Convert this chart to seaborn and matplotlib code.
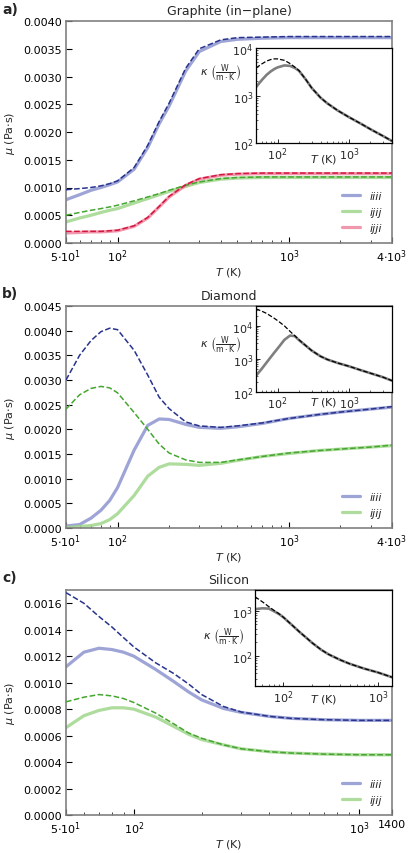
import numpy as np
import pandas as pd
import matplotlib
matplotlib.use('Agg')
import matplotlib.pyplot as plt
import matplotlib.ticker as mticker
from matplotlib.lines import Line2D
import seaborn as sns

sns.set_theme(style='ticks')
plt.rcParams['font.family'] = ['DejaVu Sans']
plt.rcParams['mathtext.fontset'] = 'dejavusans'

# ── data ─────────────────────────────────────────────────────────────────────
T_ab = [50, 60, 70, 80, 90, 100, 125, 150, 175, 200, 250, 300, 400, 500, 700,
        1000, 1500, 2000, 3000, 4000]
T_c = [50, 60, 70, 80, 90, 100, 125, 150, 175, 200, 250, 300, 400, 500, 700,
       1000, 1400]

# graphite viscosity (Pa s)
gr_iiii = [0.00078, 0.00087, 0.00095, 0.00100, 0.00105, 0.00110, 0.00133, 0.00172,
           0.00215, 0.00247, 0.00310, 0.00345, 0.00363, 0.00367, 0.00369, 0.00370,
           0.00370, 0.00370, 0.00370, 0.00370]
gr_iiii_d = [0.00096, 0.00098, 0.00100, 0.00103, 0.00107, 0.00112, 0.00136, 0.00176,
             0.00219, 0.00252, 0.00315, 0.00350, 0.00366, 0.00370, 0.00371, 0.00372,
             0.00372, 0.00372, 0.00372, 0.00372]
gr_ijij = [0.00038, 0.00045, 0.00050, 0.00055, 0.00059, 0.00062, 0.00072, 0.00080,
           0.00087, 0.00093, 0.00102, 0.00109, 0.00115, 0.00117, 0.00118, 0.00118,
           0.00118, 0.00118, 0.00118, 0.00118]
gr_ijij_d = [0.00050, 0.00055, 0.00059, 0.00062, 0.00065, 0.00068, 0.00076, 0.00083,
             0.00089, 0.00095, 0.00104, 0.00110, 0.00116, 0.00118, 0.00119, 0.00119,
             0.00119, 0.00119, 0.00119, 0.00119]
gr_ijji = [0.00018, 0.00019, 0.00020, 0.00020, 0.00021, 0.00022, 0.00030, 0.00045,
           0.00065, 0.00083, 0.00104, 0.00115, 0.00122, 0.00124, 0.00125, 0.00125,
           0.00125, 0.00125, 0.00125, 0.00125]
gr_ijji_d = [0.00021, 0.00021, 0.00021, 0.00021, 0.00022, 0.00023, 0.00031, 0.00046,
             0.00066, 0.00084, 0.00105, 0.00116, 0.00123, 0.00125, 0.00126, 0.00126,
             0.00126, 0.00126, 0.00126, 0.00126]
gr_kappa = [1500, 2100, 2700, 3200, 3600, 3900, 4300, 4200, 3800, 3300, 2150, 1450,
            900, 680, 480, 350, 250, 195, 140, 110]
gr_kappa_d = [3800, 4600, 5300, 5700, 5900, 5900, 5500, 4700, 3950, 3350, 2150, 1450,
              900, 680, 480, 350, 250, 195, 140, 110]

# diamond
di_iiii = [0.00004, 0.00007, 0.00020, 0.00036, 0.00056, 0.00082, 0.00158, 0.00208,
           0.00221, 0.00220, 0.00210, 0.00204, 0.00202, 0.00205, 0.00212, 0.00222,
           0.00230, 0.00235, 0.00241, 0.00245]
di_iiii_d = [0.00300, 0.00350, 0.00380, 0.00398, 0.00405, 0.00402, 0.00360, 0.00310,
             0.00265, 0.00242, 0.00215, 0.00207, 0.00204, 0.00207, 0.00213, 0.00222,
             0.00230, 0.00235, 0.00241, 0.00246]
di_ijij = [0.00001, 0.00003, 0.00005, 0.00009, 0.00017, 0.00029, 0.00066, 0.00105,
           0.00123, 0.00130, 0.00129, 0.00127, 0.00131, 0.00137, 0.00145, 0.00151,
           0.00157, 0.00160, 0.00164, 0.00167]
di_ijij_d = [0.00241, 0.00270, 0.00283, 0.00287, 0.00284, 0.00274, 0.00234, 0.00200,
             0.00170, 0.00152, 0.00138, 0.00133, 0.00133, 0.00138, 0.00145, 0.00152,
             0.00157, 0.00160, 0.00164, 0.00168]
di_kappa = [310, 500, 770, 1120, 1550, 2050, 3800, 5100, 4900, 3700, 2500, 1800,
            1200, 960, 750, 600, 450, 370, 280, 220]
di_kappa_d = [33000, 28000, 24000, 20000, 17000, 14500, 10000, 6800, 5000, 3800, 2500,
              1800, 1200, 960, 750, 600, 450, 370, 280, 220]

# silicon
si_iiii = [0.00112, 0.00123, 0.00126, 0.00125, 0.00123, 0.00120, 0.00110, 0.00101,
           0.00093, 0.00087, 0.000805, 0.000775, 0.000745, 0.00073, 0.00072,
           0.000715, 0.000715]
si_iiii_d = [0.00168, 0.00160, 0.00150, 0.00142, 0.00134, 0.00127, 0.00115, 0.00107,
             0.00099, 0.00091, 0.00082, 0.000778, 0.000745, 0.00073, 0.00072,
             0.000715, 0.000715]
si_ijij = [0.00066, 0.00075, 0.00079, 0.00081, 0.00081, 0.00080, 0.00074, 0.00067,
           0.00061, 0.00057, 0.00053, 0.00050, 0.000478, 0.000468, 0.00046,
           0.000455, 0.000455]
si_ijij_d = [0.000855, 0.00089, 0.00091, 0.00090, 0.00088, 0.00085, 0.00077, 0.00069,
             0.00062, 0.00058, 0.00053, 0.00050, 0.000478, 0.000468, 0.00046,
             0.000455, 0.000455]
si_kappa = [1100, 1150, 1130, 980, 850, 720, 470, 330, 250, 195, 136, 107, 80, 66,
            52, 42, 33]
si_kappa_d = [2080, 1600, 1250, 1020, 860, 720, 470, 330, 250, 195, 136, 107, 80, 66,
              52, 42, 33]

SOLID_C = {'iiii': '#8d95cf', 'ijij': '#a0d68c', 'ijji': '#ef86a0'}
DASH_C = {'iiii': '#28338e', 'ijij': '#45a630', 'ijji': '#d3163e'}
SPINE_GRAY = '#808080'


# ── helpers ──────────────────────────────────────────────────────────────────

def style_main(ax, xlim, ylim, yticks, xticks, xticklabels):
    ax.set_xscale('log')
    ax.set_xlim(*xlim)
    ax.set_ylim(*ylim)
    ax.set_yticks(yticks)
    ax.yaxis.set_major_formatter(mticker.FormatStrFormatter('%.4f'))
    ax.set_xticks(xticks)
    ax.set_xticklabels(xticklabels)
    ax.xaxis.set_minor_locator(mticker.LogLocator(base=10, subs=np.arange(2, 10)))
    ax.xaxis.set_minor_formatter(mticker.NullFormatter())
    ax.tick_params(axis='both', which='major', direction='in', length=4, width=0.8,
                   labelsize=8, colors='black', top=False, right=False, pad=3)
    ax.tick_params(axis='x', which='minor', direction='in', length=2.2, width=0.6)
    for s in ax.spines.values():
        s.set_color(SPINE_GRAY)
        s.set_linewidth(1.2)
    ax.set_xlabel('$T$ (K)', fontsize=8, labelpad=1)
    ax.set_ylabel(r'$\mu$ (Pa$\cdot$s)', fontsize=8)


def draw_main(ax, T, series):
    for comp, solid, dashed in series:
        sns.lineplot(x=T, y=solid, ax=ax, color=SOLID_C[comp], lw=2.3, alpha=0.85,
                     legend=False, zorder=2)
        sns.lineplot(x=T, y=dashed, ax=ax, color=DASH_C[comp], lw=1.1,
                     linestyle='--', legend=False, zorder=3)
    handles = [Line2D([], [], color=SOLID_C[c], lw=2.3, alpha=0.85) for c, _, _ in series]
    labels = [c for c, _, _ in series]
    leg = ax.legend(handles, labels, loc='lower right', frameon=False, fontsize=8,
                    handlelength=1.6, handletextpad=0.9, labelspacing=0.55,
                    borderaxespad=0.5)
    for t in leg.get_texts():
        t.set_fontstyle('italic')


def draw_inset(fig, rect, T, kap, kap_d, xlim, ylim, klab_y, tlab_y, klab_x):
    ax = fig.add_axes(rect)
    sns.lineplot(x=T, y=kap, ax=ax, color='#7f7f7f', lw=1.9, legend=False)
    sns.lineplot(x=T, y=kap_d, ax=ax, color='black', lw=0.9, linestyle='--',
                 legend=False)
    ax.set_xscale('log')
    ax.set_yscale('log')
    ax.set_xlim(*xlim)
    ax.set_ylim(*ylim)
    ax.set_xticks([100, 1000])
    ax.xaxis.set_minor_locator(mticker.LogLocator(base=10, subs=np.arange(2, 10)))
    ax.xaxis.set_minor_formatter(mticker.NullFormatter())
    ax.yaxis.set_minor_locator(mticker.LogLocator(base=10, subs=np.arange(2, 10)))
    ax.yaxis.set_minor_formatter(mticker.NullFormatter())
    ax.tick_params(axis='both', which='major', direction='in', length=3, width=0.7,
                   labelsize=8, pad=2)
    ax.tick_params(axis='both', which='minor', direction='in', length=1.6, width=0.5)
    for s in ax.spines.values():
        s.set_color('black')
        s.set_linewidth(0.9)
    ax.set_xlabel('$T$ (K)', fontsize=8)
    ax.xaxis.set_label_coords(0.5, tlab_y)
    ax.set_ylabel('')
    ax.text(klab_x, klab_y,
            r'$\kappa\ \left(\frac{\mathrm{W}}{\mathrm{m\cdot K}}\right)$',
            transform=ax.transAxes, ha='right', va='center', fontsize=8)
    return ax


# ── figure ───────────────────────────────────────────────────────────────────

fig = plt.figure(figsize=(4.16, 8.54), dpi=100)

W = 416.0
H = 854.0


def rect(l, t, r, b):
    return [l / W, 1 - b / H, (r - l) / W, (b - t) / H]


ax_a = fig.add_axes(rect(66, 22, 392, 244))
ax_b = fig.add_axes(rect(66, 307, 392, 529))
ax_c = fig.add_axes(rect(66, 591, 392, 816))

lab_ab = [r'$5{\cdot}10^1$', r'$10^2$', r'$10^3$', r'$4{\cdot}10^3$']
lab_c = [r'$5{\cdot}10^1$', r'$10^2$', r'$10^3$', '1400']

draw_main(ax_a, T_ab, [('iiii', gr_iiii, gr_iiii_d),
                       ('ijij', gr_ijij, gr_ijij_d),
                       ('ijji', gr_ijji, gr_ijji_d)])
style_main(ax_a, (50, 4000), (0, 0.0040), np.arange(0, 0.00401, 0.0005),
           [50, 100, 1000, 4000], lab_ab)
ax_a.set_title('Graphite (in\u2212plane)', fontsize=9, pad=5)

draw_main(ax_b, T_ab, [('iiii', di_iiii, di_iiii_d),
                       ('ijij', di_ijij, di_ijij_d)])
style_main(ax_b, (50, 4000), (0, 0.0045), np.arange(0, 0.00451, 0.0005),
           [50, 100, 1000, 4000], lab_ab)
ax_b.set_title('Diamond', fontsize=9, pad=5)

draw_main(ax_c, T_c, [('iiii', si_iiii, si_iiii_d),
                      ('ijij', si_ijij, si_ijij_d)])
style_main(ax_c, (50, 1400), (0, 0.0017), np.arange(0, 0.00161, 0.0002),
           [50, 100, 1000, 1400], lab_c)
ax_c.set_title('Silicon', fontsize=9, pad=5)

for ax in (ax_a, ax_b, ax_c):
    ax.yaxis.set_label_coords(-0.15, 0.5)

draw_inset(fig, rect(256, 49, 392, 144), T_ab, gr_kappa, gr_kappa_d,
           (50, 4000), (100, 10000), 0.74, -0.1, -0.11)
draw_inset(fig, rect(256, 307, 392, 393), T_ab, di_kappa, di_kappa_d,
           (50, 4000), (100, 40000), 0.55, -0.03, -0.11)
draw_inset(fig, rect(255, 591, 392, 687), T_c, si_kappa, si_kappa_d,
           (50, 1400), (21, 2950), 0.52, -0.06, -0.08)

fig.text(2 / W, 1 - 10 / H, 'a)', fontsize=10, fontweight='bold', va='center')
fig.text(2 / W, 1 - 294 / H, 'b)', fontsize=10, fontweight='bold', va='center')
fig.text(2 / W, 1 - 578 / H, 'c)', fontsize=10, fontweight='bold', va='center')

fig.savefig('out.png', dpi=100)
